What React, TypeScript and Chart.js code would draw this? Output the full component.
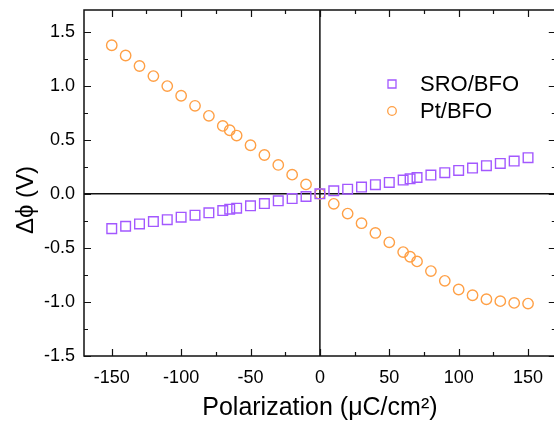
import { useEffect, useRef } from 'react';
import { Chart, registerables } from 'chart.js';

Chart.register(...registerables);

// ---- data ----
const polarization = [
  -150, -140, -130, -120, -110, -100, -90, -80, -70, -65, -60, -50, -40, -30, -20, -10, 0,
  10, 20, 30, 40, 50, 60, 65, 70, 80, 90, 100, 110, 120, 130, 140, 150,
];
const sroBfo = [
  -0.322, -0.3, -0.279, -0.257, -0.239, -0.216, -0.198, -0.176, -0.155, -0.142, -0.133, -0.111, -0.09, -0.065, -0.044, -0.025, 0,
  0.028, 0.043, 0.062, 0.084, 0.105, 0.127, 0.139, 0.151, 0.173, 0.195, 0.216, 0.238, 0.26, 0.281, 0.303, 0.334,
];
const ptBfo = [
  1.374, 1.279, 1.182, 1.089, 0.996, 0.907, 0.814, 0.721, 0.628, 0.588, 0.539, 0.449, 0.359, 0.267, 0.177, 0.087, 0,
  -0.093, -0.183, -0.272, -0.362, -0.449, -0.539, -0.582, -0.625, -0.715, -0.805, -0.885, -0.938, -0.975, -0.993, -1.009, -1.015,
];
const seriesLabels = ['SRO/BFO', 'Pt/BFO'];
const xMajorTicks = [-150, -100, -50, 0, 50, 100, 150];
const xMinorTicks = [-125, -75, -25, 25, 75, 125];
const yMajorTicks = [-1.5, -1, -0.5, 0, 0.5, 1, 1.5];
const yMinorTicks = [-1.25, -0.75, -0.25, 0.25, 0.75, 1.25];
const xTickLabels = ['-150', '-100', '-50', '0', '50', '100', '150'];
const yTickLabels = ['-1.5', '-1.0', '-0.5', '0.0', '0.5', '1.0', '1.5'];
const xTitle = 'Polarization (\u03BCC/cm\u00B2)';
const yTitle = '\u0394\u03D5 (V)';

const FONT = "'Liberation Sans', Arial, sans-serif";
const PURPLE = 'rgb(163, 88, 255)';
const ORANGE = 'rgb(255, 160, 70)';
const CANVAS_W = 564;

const decorPlugin = {
  id: 'decor',
  beforeDatasetsDraw(chart: any) {
    const { ctx, chartArea: a, scales } = chart;
    const x0 = scales.x.getPixelForValue(0);
    const y0 = scales.y.getPixelForValue(0);
    ctx.save();
    ctx.strokeStyle = '#111';
    ctx.lineWidth = 1.5;
    ctx.beginPath();
    ctx.moveTo(x0, a.top);
    ctx.lineTo(x0, a.bottom);
    ctx.moveTo(a.left, y0);
    ctx.lineTo(a.right, y0);
    ctx.stroke();
    ctx.restore();
  },
  afterDatasetsDraw(chart: any) {
    const { ctx, chartArea: a, scales } = chart;
    ctx.save();
    ctx.strokeStyle = '#111';
    ctx.lineWidth = 1.5;
    ctx.strokeRect(a.left, a.top, a.right - a.left, a.bottom - a.top);
    ctx.lineWidth = 1.2;
    ctx.beginPath();
    const xt = (vals: number[], len: number) => {
      vals.forEach((v) => {
        const px = Math.round(scales.x.getPixelForValue(v)) + 0.5;
        ctx.moveTo(px, a.bottom);
        ctx.lineTo(px, a.bottom - len);
        ctx.moveTo(px, a.top);
        ctx.lineTo(px, a.top + len);
      });
    };
    const yt = (vals: number[], len: number) => {
      vals.forEach((v) => {
        const py = Math.round(scales.y.getPixelForValue(v)) + 0.5;
        ctx.moveTo(a.left, py);
        ctx.lineTo(a.left + len, py);
        ctx.moveTo(a.right, py);
        ctx.lineTo(a.right - len, py);
      });
    };
    xt(xMajorTicks, 7);
    xt(xMinorTicks, 4);
    yt(yMajorTicks, 7);
    yt(yMinorTicks, 4);
    ctx.stroke();
    ctx.restore();
  },
  afterDraw(chart: any) {
    const { ctx, chartArea: a } = chart;
    ctx.save();
    // legend
    const lx = 392;
    const rows = [84, 111];
    chart.data.datasets.forEach((ds: any, i: number) => {
      const cy = rows[i];
      ctx.strokeStyle = ds.borderColor;
      ctx.lineWidth = 1.3;
      ctx.beginPath();
      if (ds.pointStyle === 'rect') {
        ctx.rect(lx - 4, cy - 4, 8, 8);
      } else {
        ctx.arc(lx, cy, 4.3, 0, Math.PI * 2);
      }
      ctx.stroke();
      ctx.fillStyle = '#000';
      ctx.font = `22px ${FONT}`;
      ctx.textAlign = 'left';
      ctx.textBaseline = 'middle';
      ctx.fillText(ds.label, lx + 28, cy + 1);
    });
    // y title
    ctx.translate(26, (a.top + a.bottom) / 2 + 17);
    ctx.rotate(-Math.PI / 2);
    ctx.font = `24px ${FONT}`;
    ctx.textAlign = 'center';
    ctx.textBaseline = 'middle';
    ctx.fillStyle = '#000';
    ctx.fillText(yTitle, 0, 0);
    ctx.restore();
  },
};

export default function App() {
  const ref = useRef<HTMLCanvasElement>(null);
  useEffect(() => {
    document.body.style.margin = '0';
    const canvas = ref.current!;
    const chart = new Chart(canvas, {
      type: 'scatter',
      data: {
        datasets: [
          {
            label: seriesLabels[0],
            data: polarization.map((x, i) => ({ x, y: sroBfo[i] })),
            pointStyle: 'rect',
            pointRadius: 6.8,
            borderColor: PURPLE,
            backgroundColor: 'rgba(0,0,0,0)',
            pointBorderWidth: 1.4,
            showLine: false,
          },
          {
            label: seriesLabels[1],
            data: polarization.map((x, i) => ({ x, y: ptBfo[i] })),
            pointStyle: 'circle',
            pointRadius: 5.2,
            borderColor: ORANGE,
            backgroundColor: 'rgba(0,0,0,0)',
            pointBorderWidth: 1.4,
            showLine: false,
          },
        ],
      },
      options: {
        animation: false,
        responsive: false,
        devicePixelRatio: 1,
        layout: { padding: { top: 10, right: 2, left: 0, bottom: 0 } },
        plugins: { legend: { display: false }, tooltip: { enabled: false } },
        scales: {
          x: {
            type: 'linear',
            min: -170,
            max: 170,
            afterBuildTicks: (s: any) => {
              s.ticks = xMajorTicks.map((v) => ({ value: v }));
            },
            afterFit: (s: any) => {
              s.height = 66;
              s.paddingLeft = 0;
              s.paddingRight = 0;
              s.paddingTop = 0;
              s.paddingBottom = 0;
            },
            grid: { display: false, drawTicks: false },
            border: { display: false },
            ticks: {
              padding: 11,
              maxRotation: 0,
              color: '#000',
              font: { family: FONT, size: 18 },
              callback: (_v: any, i: number) => xTickLabels[i],
            },
            title: {
              display: true,
              text: xTitle,
              color: '#000',
              font: { family: FONT, size: 25, lineHeight: 1 },
              padding: { top: 0, bottom: 1.5 },
            },
          },
          y: {
            type: 'linear',
            min: -1.5,
            max: 1.7,
            afterBuildTicks: (s: any) => {
              s.ticks = yMajorTicks.map((v) => ({ value: v }));
            },
            afterFit: (s: any) => {
              s.width = 84;
              s.paddingLeft = 0;
              s.paddingRight = 0;
              s.paddingTop = 0;
              s.paddingBottom = 0;
            },
            grid: { display: false, drawTicks: false },
            border: { display: false },
            ticks: {
              padding: 9,
              color: '#000',
              font: { family: FONT, size: 18 },
              callback: (_v: any, i: number) => yTickLabels[i],
            },
          },
        },
      },
      plugins: [decorPlugin],
    } as any);
    return () => chart.destroy();
  }, []);
  return (
    <div style={{ width: 554, height: 422, overflow: 'hidden', position: 'relative' }}>
      <div style={{ width: CANVAS_W, height: 422 }}>
        <canvas ref={ref} width={CANVAS_W} height={422} style={{ display: 'block' }} />
      </div>
    </div>
  );
}
